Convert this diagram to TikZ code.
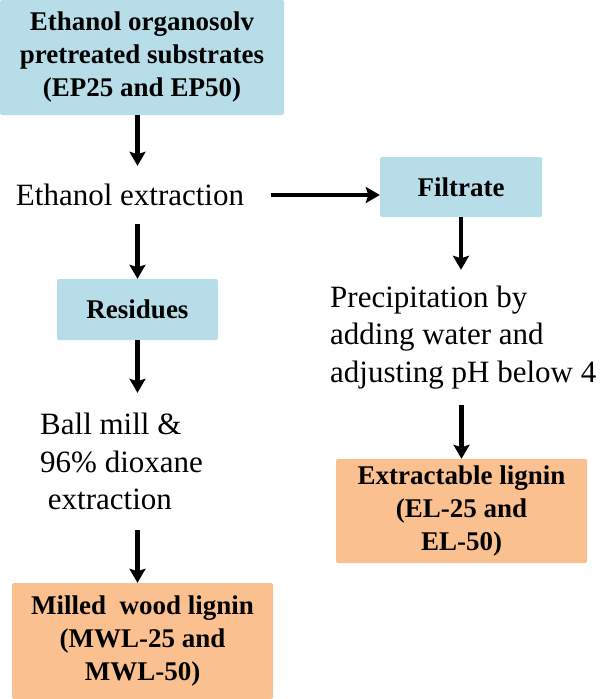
\documentclass[tikz,border=0pt]{standalone}
\usepackage{fontspec}
\setmainfont{Liberation Serif}
\usetikzlibrary{arrows.meta}
\definecolor{boxblue}{RGB}{183,221,232}
\definecolor{boxorange}{RGB}{250,192,144}
\begin{document}
\begin{tikzpicture}[x=1pt, y=-1pt,
    box/.style={rounded corners=2pt, align=center, inner sep=0pt, font=\bfseries\fontsize{27}{33}\selectfont},
    steptext/.style={inner ysep=0pt, font=\fontsize{31}{37.5}\selectfont},
    arr/.style={line width=4.5pt, -{Stealth[length=14pt, width=16pt, inset=2.5pt]}}]
    \useasboundingbox (0,0) rectangle (601,699);
    \node[box, fill=boxblue, minimum width=284pt, minimum height=115pt] (sub) at (142,57.5) {Ethanol organosolv\\pretreated substrates\\(EP25 and EP50)};
    \node[steptext, inner xsep=27pt, minimum height=58pt] (etx) at (130,195) {Ethanol extraction};
    \node[box, fill=boxblue, minimum width=162pt, minimum height=60pt] (filt) at (461,187) {Filtrate};
    \node[box, fill=boxblue, minimum width=161pt, minimum height=61pt] (res) at (137.5,309.5) {Residues};
    \node[steptext, anchor=west, align=left, inner xsep=0pt, minimum height=137pt] (ball) at (40,461.5) {Ball mill \&\\96\% dioxane\\\ extraction};
    \node[steptext, anchor=west, align=left, inner xsep=0pt, minimum height=135pt] (prec) at (330,337.5) {Precipitation by\\adding water and\\adjusting pH below 4};
    \node[box, fill=boxorange, minimum width=251pt, minimum height=104pt] (el) at (461.5,511) {Extractable lignin\\(EL-25 and\\EL-50)};
    \node[box, fill=boxorange, minimum width=261pt, minimum height=116pt] (mwl) at (142.5,641) {Milled\ \ wood lignin\\(MWL-25 and\\MWL-50)};
    \draw[arr] (sub.south -| res.north) -- (etx.north -| res.north);
    \draw[arr] (etx.south -| res.north) -- (res.north);
    \draw[arr] (etx.east) -- (etx.east -| filt.west);
    \draw[arr] (filt.south) -- (prec.north -| filt.south);
    \draw[arr] (prec.south -| el.north) -- (el.north);
    \draw[arr] (res.south) -- (ball.north -| res.south);
    \draw[arr] (ball.south -| res.south) -- (mwl.north -| res.south);
\end{tikzpicture}
\end{document}
